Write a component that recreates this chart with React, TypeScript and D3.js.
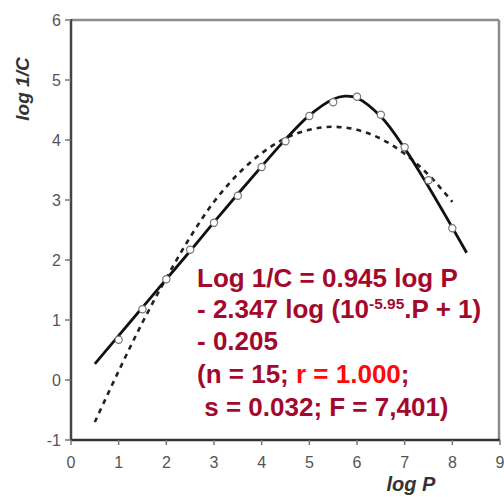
import React from 'react'
import * as d3 from 'd3'

// observed points (log P, log 1/C)
const logP = [1, 1.5, 2, 2.5, 3, 3.5, 4, 4.5, 5, 5.5, 6, 6.5, 7, 7.5, 8]
const logInvC = [0.67, 1.18, 1.68, 2.17, 2.62, 3.07, 3.55, 3.98, 4.4, 4.63, 4.72, 4.42, 3.88, 3.33, 2.53]

// bilinear fit (solid)
const bilinX = [0.5, 1, 1.5, 2, 2.5, 3, 3.5, 4, 4.5, 5, 5.5, 5.75, 6, 6.5, 7, 7.5, 8, 8.3]
const bilinY = [0.27, 0.74, 1.21, 1.68, 2.15, 2.63, 3.1, 3.56, 4.01, 4.41, 4.68, 4.73, 4.7, 4.39, 3.86, 3.22, 2.54, 2.12]

// parabolic fit (dashed)
const paraX = [0.5, 1, 1.5, 2, 2.5, 3, 3.5, 4, 4.5, 5, 5.5, 6, 6.5, 7, 7.5, 8]
const paraY = [-0.7, 0.15, 0.96, 1.7, 2.38, 2.97, 3.43, 3.78, 4.03, 4.17, 4.22, 4.17, 4.02, 3.77, 3.42, 2.97]

const xTicks = [0, 1, 2, 3, 4, 5, 6, 7, 8, 9]
const yTicks = [-1, 0, 1, 2, 3, 4, 5, 6]

const W = 504
const H = 497
const dark = '#a3092c'
const bright = '#ff0a0a'

export default function App() {
  const x = d3.scaleLinear().domain([0, 9]).range([71, 500])
  const y = d3.scaleLinear().domain([-1, 6]).range([440, 20])

  const line = d3.line<[number, number]>()
    .x(d => x(d[0]))
    .y(d => y(d[1]))
    .curve(d3.curveCatmullRom)

  const solid = bilinX.map((v, i) => [v, bilinY[i]] as [number, number])
  const dashed = paraX.map((v, i) => [v, paraY[i]] as [number, number])

  const font = 'Liberation Sans, Arial, Helvetica, sans-serif'

  return (
    <svg width={W} height={H} style={{ position: 'absolute', left: 0, top: 0, background: '#fff' }} fontFamily={font}>
      {/* frame */}
      <line x1={x(0)} x2={x(9) - 1} y1={y(6)} y2={y(6)} stroke="#8c8c8c" strokeWidth={2.5} />
      <line x1={x(9) - 1} x2={x(9) - 1} y1={y(6)} y2={y(-1)} stroke="#8c8c8c" strokeWidth={2.5} />
      <line x1={x(0)} x2={x(0)} y1={y(6) - 1} y2={y(-1)} stroke="#444" strokeWidth={2.5} />
      <line x1={x(0)} x2={x(9)} y1={y(-1)} y2={y(-1)} stroke="#333" strokeWidth={2.5} />

      {yTicks.map(t => (
        <g key={'y' + t}>
          <line x1={x(0) - 6} x2={x(0)} y1={y(t)} y2={y(t)} stroke="#777" strokeWidth={1.5} />
          <text x={x(0) - 10} y={y(t)} dy="0.36em" textAnchor="end" fontSize={16} fill="#555">{t}</text>
        </g>
      ))}
      {xTicks.map(t => (
        <g key={'x' + t}>
          <line x1={x(t)} x2={x(t)} y1={y(-1)} y2={y(-1) + 5} stroke="#777" strokeWidth={1.5} />
          <text x={x(t)} y={468} textAnchor="middle" fontSize={16} fill="#555">{t}</text>
        </g>
      ))}

      <text transform="translate(29,89) rotate(-90)" textAnchor="middle" fontSize={19} fontWeight="bold" fontStyle="italic" fill="#333">log 1/C</text>
      <text x={411} y={491} textAnchor="middle" fontSize={20} fontWeight="bold" fontStyle="italic" fill="#333">log P</text>

      <path d={line(dashed) ?? ''} fill="none" stroke="#222" strokeWidth={2.6} strokeDasharray="5,5" />
      <path d={line(solid) ?? ''} fill="none" stroke="#111" strokeWidth={2.8} />

      {logP.map((v, i) => (
        <circle key={'p' + i} cx={x(v)} cy={y(logInvC[i])} r={3.6} fill="#fff" stroke="#777" strokeWidth={1.2} />
      ))}

      <g fontSize={26} fontWeight="bold" fill={dark}>
        <text x={197} y={287}>Log 1/C = 0.945 log P</text>
        <text x={197} y={318}>
          - 2.347 log (10<tspan fontSize={15.5} dy={-9}>-5.95</tspan><tspan dy={9}>.P + 1)</tspan>
        </text>
        <text x={197} y={350}>- 0.205</text>
        <text x={197} y={383}>
          (n = 15; <tspan fill={bright}>r = 1.000</tspan>;
        </text>
        <text x={197} y={416} xmlSpace="preserve"> s = 0.032; F = 7,401)</text>
      </g>
    </svg>
  )
}
